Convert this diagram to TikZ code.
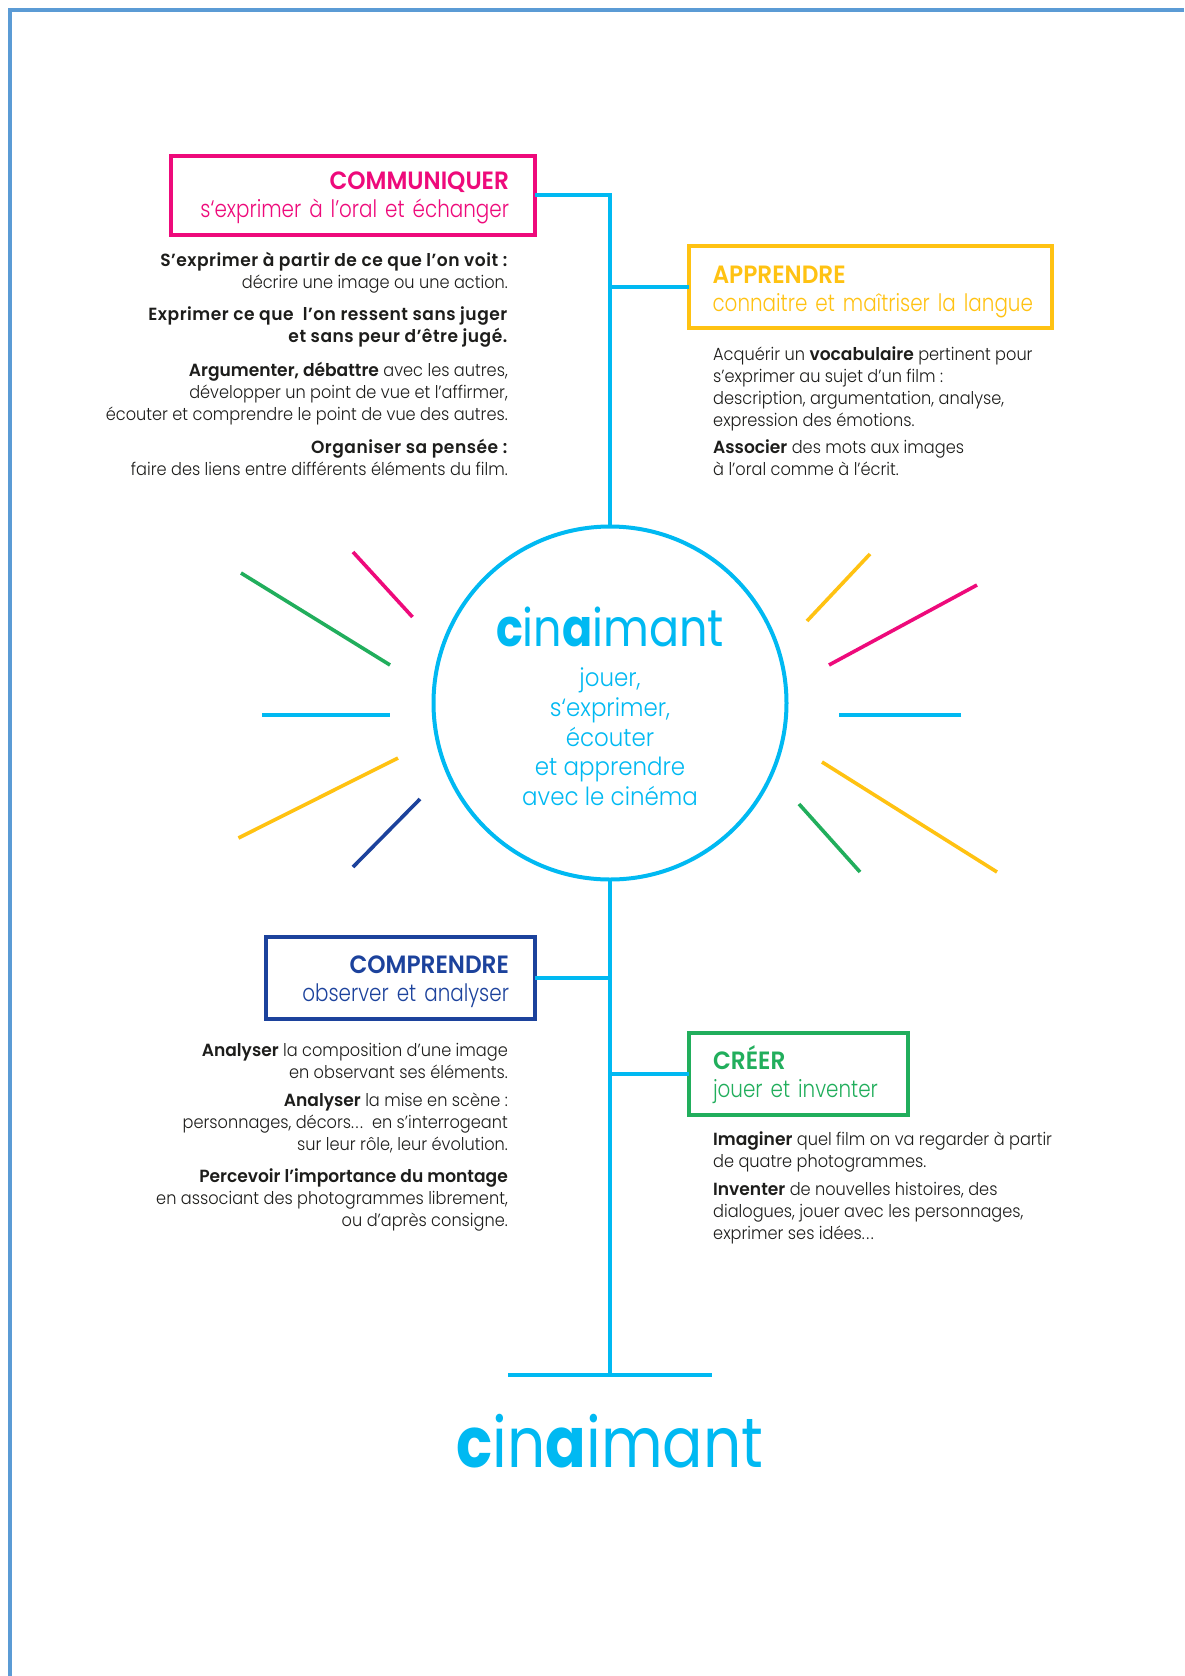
\documentclass[tikz,border=0pt]{standalone}
\usepackage{fontspec}
\setmainfont{Poppins}[UprightFont=* Light,BoldFont=* SemiBold,FakeStretch=0.918,BoldFeatures={FakeStretch=0.97}]
\newfontfamily\headfam{Poppins}[UprightFont=* Light,BoldFont=* SemiBold,FakeStretch=0.83,WordSpace=0.65,BoldFeatures={FakeStretch=0.93}]
\newfontfamily\logoreg{Poppins}[UprightFont=* Regular,BoldFont=* Bold,FakeStretch=0.855]
\definecolor{cpink}{HTML}{EE0A7B}
\definecolor{cyel}{HTML}{FFC212}
\definecolor{ccyan}{HTML}{00B9F2}
\definecolor{cnavy}{HTML}{1C429C}
\definecolor{cgreen}{HTML}{21AE5C}
\definecolor{ctext}{HTML}{1D1D1B}
\definecolor{cframe}{HTML}{5B9BD5}
\tikzset{
  heading/.style={draw=#1,text=#1,line width=4pt,outer sep=0pt,inner xsep=24pt,inner ysep=0pt,
    font=\headfam\fontsize{24}{28}\selectfont},
  body/.style={inner sep=0pt,text=ctext,font=\fontsize{17.6}{22}\selectfont},
  bodyr/.style={body,anchor=north east,align=right},
  bodyl/.style={body,anchor=north west,align=left},
  link/.style={draw=ccyan,line width=4pt},
  ray/.style={draw=#1,line width=3.6pt},
}
\newcommand{\headtxt}[3][24pt]{\rule{0pt}{#1}{\fontsize{25}{28}\selectfont\textbf{#2}}\\\mbox{#3}}
\newcommand{\tracked}[1]{\textbf{\addfontfeature{LetterSpace=2.9}#1}}
\newcommand{\threedots}{.\kern1.6pt.\kern1.6pt.}
\begin{document}
\begin{tikzpicture}[x=1pt,y=-1pt]
\useasboundingbox (0,0) rectangle (1184,1676);
\fill[white] (0,0) rectangle (1184,1676);
\draw[cframe,line width=4pt] (1184,10) -- (10,10) -- (10,1676);

% hub
\node[circle,draw=ccyan,line width=4pt,minimum size=353pt,inner sep=0pt,outer sep=0pt] (hub) at (610,703) {};
\node[text=ccyan,inner sep=0pt,anchor=base,font=\logoreg\fontsize{52}{52}\selectfont] (logoa) at (610,646) {\textbf{c}in\textbf{a}imant};
\node[text=ccyan,inner sep=0pt,anchor=north,align=center,font=\fontsize{25}{29.6}\selectfont] (tagline) at (610,666) {\strut jouer,\\s‘exprimer,\\écouter\\et apprendre\\avec le cinéma};

% heading boxes
\node[heading=cpink,inner xsep=26pt,align=right,text width=312pt,minimum height=79pt] (com) at (353,195)
  {\headtxt{COMMUNIQUER}{s‘exprimer à l’oral et échanger}};
\node[heading=cyel,align=left,text width=315pt,minimum height=82pt] (app) at (870,287)
  {\headtxt[28pt]{APPRENDRE}{connaitre et maîtriser la langue}};
\node[heading=cnavy,inner xsep=26pt,align=right,text width=217pt,minimum height=82pt] (cpr) at (400.5,978)
  {\headtxt[25pt]{COMPRENDRE}{observer et analyser}};
\node[heading=cgreen,align=left,text width=171pt,minimum height=82pt] (cre) at (798.5,1074)
  {\headtxt[26pt]{CRÉER}{jouer et inventer}};

% connectors
\coordinate (base) at (610,1375);
\coordinate (baseL) at (508,1375);
\coordinate (baseR) at (712,1375);
\draw[link] (com.east) -| (hub.north);
\draw[link] (app.west) -- (app.west -| hub.north);
\draw[link] (hub.south) -- (base);
\draw[link] (cpr.east) -- (cpr.east -| hub.south);
\draw[link] (cre.west) -- (cre.west -| hub.south);
\draw[link] (baseL) -- (baseR);

\node[text=ccyan,inner sep=0pt,anchor=base,font=\logoreg\fontsize{70}{70}\selectfont] (logob) at (610,1467) {\textbf{c}in\textbf{a}imant};

% rays
\draw[ray=cpink] (353,552) -- (412.5,617);
\draw[ray=cgreen] (241,573) -- (390,665);
\draw[ray=ccyan] (262,715) -- (390,715);
\draw[ray=cyel] (238.5,838) -- (398,758);
\draw[ray=cnavy] (353,867) -- (420,799);
\draw[ray=cyel] (870,554) -- (807,621);
\draw[ray=cpink] (977,585) -- (829,665);
\draw[ray=ccyan] (961,715) -- (839,715);
\draw[ray=cyel] (997,872) -- (822,762);
\draw[ray=cgreen] (860,872) -- (799,804);

% Communiquer text
\node[bodyr] (t1) at (508,250.6) {\strut\tracked{S’exprimer à partir de ce que l’on voit :}\\décrire une image ou une action.};
\node[bodyr] (t2) at (508,305) {\strut\tracked{Exprimer ce que\ \ l’on ressent sans juger}\\\tracked{et sans peur d’être jugé.}};
\node[bodyr] (t3) at (508,361) {\strut\textbf{Argumenter, débattre} avec les autres,\\développer un point de vue et l’affirmer,\\écouter et comprendre le point de vue des autres.};
\node[bodyr] (t4) at (508,437.6) {\strut\tracked{Organiser sa pensée :}\\faire des liens entre différents éléments du film.};

% Apprendre text
\node[bodyl] (t5) at (713,344.6) {\strut Acquérir un \textbf{vocabulaire} pertinent pour\\s’exprimer au sujet d’un film :\\description, argumentation, analyse,\\expression des émotions.};
\node[bodyl] (t6) at (713,437.6) {\strut\textbf{Associer} des mots aux images\\à l’oral comme à l’écrit.};

% Comprendre text
\node[bodyr] (t7) at (508,1040.6) {\strut\textbf{Analyser} la composition d’une image\\en observant ses éléments.};
\node[bodyr] (t8) at (508,1090.6) {\strut\textbf{Analyser} la mise en scène :\\personnages, décors\threedots\ \ en s’interrogeant\\sur leur rôle, leur évolution.};
\node[bodyr] (t9) at (508,1166.6) {\strut\textbf{Percevoir l’importance du montage}\\en associant des photogrammes librement,\\ou d’après consigne.};

% Creer text
\node[bodyl] (t10) at (713,1129.6) {\strut\textbf{Imaginer} quel film on va regarder à partir\\de quatre photogrammes.};
\node[bodyl] (t11) at (713,1179.6) {\strut\textbf{Inventer} de nouvelles histoires, des\\dialogues, jouer avec les personnages,\\exprimer ses idées\threedots};
\end{tikzpicture}
\end{document}
